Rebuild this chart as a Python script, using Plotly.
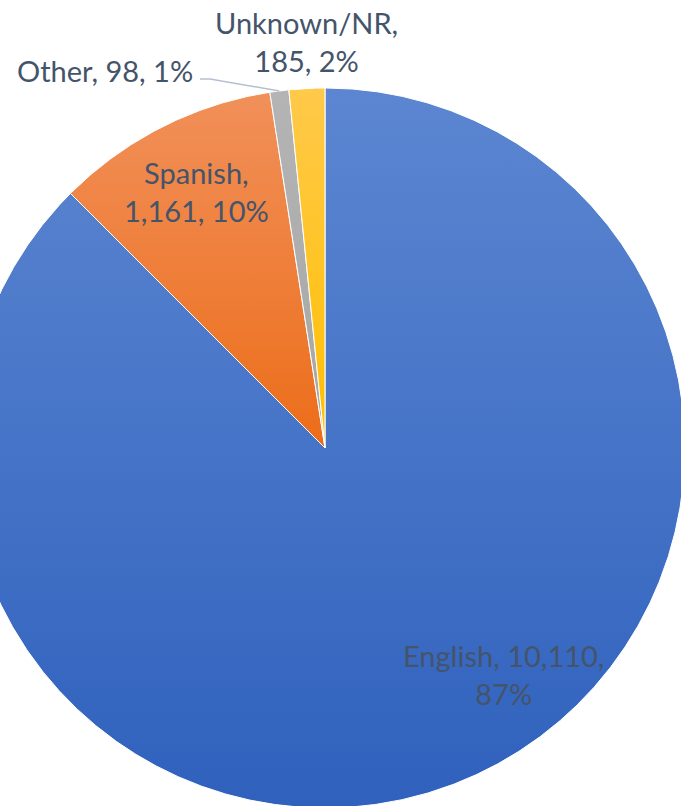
import numpy as np
import plotly.graph_objects as go

# ---- data ----
languages = ["English", "Spanish", "Other", "Unknown/NR"]
counts = [10110, 1161, 98, 185]
shown_pct = [87, 10, 1, 2]

# ---- layout / style ----
W, H = 681, 806
CX, CY, R = 325, 448, 360          # pie centre (px) and radius (px)
gradients = [("#2f61bd", "#5c86d1"),   # bottom, top
             ("#ec6d19", "#f1905a"),
             ("#a6a6a6", "#b4b4b4"),
             ("#ffbf00", "#ffc94a")]
line1_parts = [2, 1, 3, 1]              # how many comma parts on the first label line
label_pos = [(178, -226), (-129, 257), (-220, 378), (-19, 407)]  # label centres (px offsets)
TEXT_COLOR = "#44546a"
FONT = "Lato"

total = sum(counts)
fracs = np.array(counts) / total
ends = np.cumsum(fracs) * 2 * np.pi
starts = ends - fracs * 2 * np.pi

fig = go.Figure()
for i, name in enumerate(languages):
    s, e = starts[i], ends[i]
    th = np.linspace(s, e, max(int((e - s) * 200) + 2, 6))
    xs = np.concatenate([[0], R * np.sin(th), [0]])
    ys = np.concatenate([[0], R * np.cos(th), [0]])
    dark, light = gradients[i]
    fig.add_trace(go.Scatter(
        x=xs, y=ys, mode="lines", fill="toself",
        line=dict(color="white", width=1),
        fillgradient=dict(type="vertical", colorscale=[[0, dark], [1, light]]),
        name=name, hoverinfo="text",
        text=f"{name}: {counts[i]:,} ({shown_pct[i]}%)",
        showlegend=False,
    ))

# leader line for "Other"
mid_other = (starts[2] + ends[2]) / 2
lx, ly = label_pos[2]
fig.add_trace(go.Scatter(
    x=[R * np.sin(mid_other), lx + 105, lx + 95],
    y=[R * np.cos(mid_other), ly - 9, ly - 9],
    mode="lines", line=dict(color="#b4c0d0", width=1.5),
    hoverinfo="skip", showlegend=False,
))

for i, name in enumerate(languages):
    parts = [f"{name},", f"{counts[i]:,},", f"{shown_pct[i]}%"]
    k = line1_parts[i]
    l1 = " ".join(parts[:k])
    l2 = " ".join(parts[k:])
    txt = l1 if not l2 else f"{l1}<br>{l2}"
    x, y = label_pos[i]
    fig.add_annotation(x=x, y=y, text=txt, showarrow=False,
                       xanchor="center", yanchor="middle", align="center",
                       font=dict(family=FONT, size=29, color=TEXT_COLOR))

fig.update_xaxes(range=[-CX, W - CX], visible=False, fixedrange=True)
fig.update_yaxes(range=[CY - H, CY], visible=False, fixedrange=True)
fig.update_layout(width=W, height=H, margin=dict(l=0, r=0, t=0, b=0),
                  paper_bgcolor="white", plot_bgcolor="white",
                  showlegend=False)

fig.write_html("out.html", config={"displayModeBar": False},
               post_script="document.body.style.margin='0';document.body.style.overflow='hidden';")
